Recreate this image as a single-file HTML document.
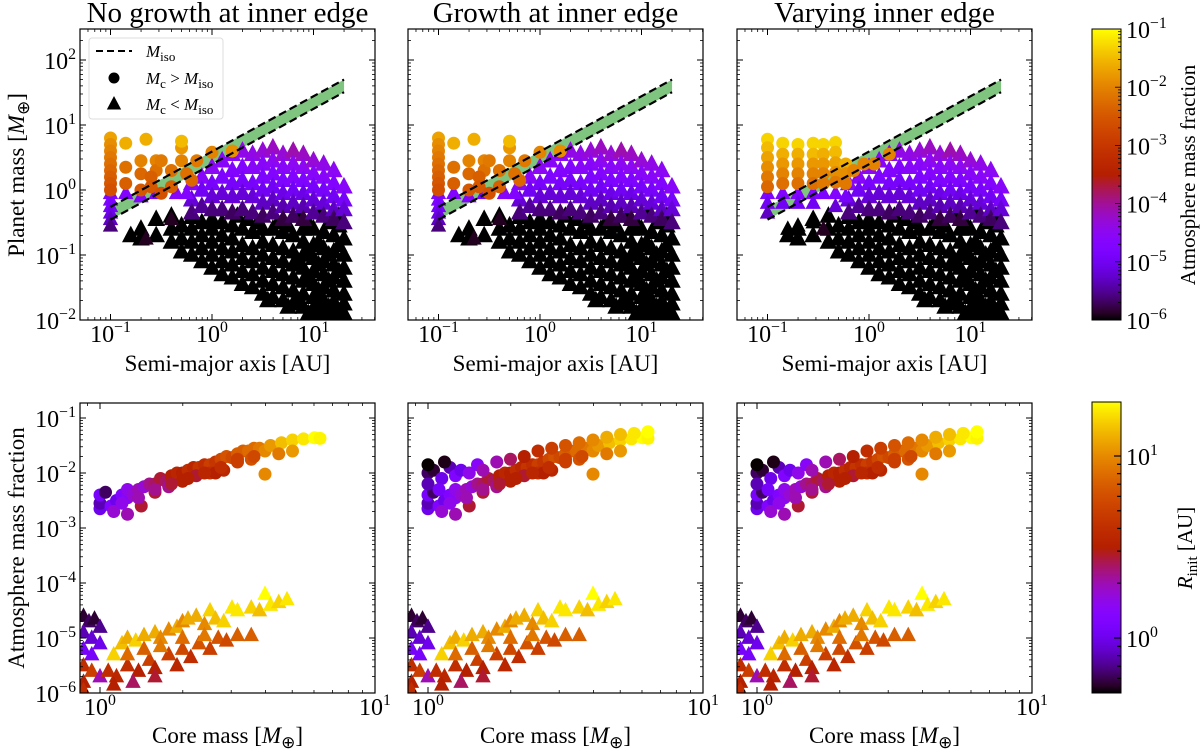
<!DOCTYPE html>
<html><head><meta charset="utf-8"><style>
html,body{margin:0;padding:0;background:#fff}
svg{display:block;font-family:"Liberation Serif",serif}
</style></head><body>
<svg id="fig" width="1200" height="749" viewBox="0 0 1200 749" xmlns="http://www.w3.org/2000/svg"></svg>
<script>
// ---------- DATA ----------
const panelTitles = ["No growth at inner edge","Growth at inner edge","Varying inner edge"];
const isoA = [0.1, 20];
const isoUpper = [0.55, 50];
const isoLower = [0.35, 32];
const blackTri = [[-0.8,-0.7],[-0.7,-0.75],[-0.7,-0.6],[-0.55,-0.7],[-0.55,-0.45],[-0.4,-0.8],[-0.4,-0.6],[-0.4,-0.4],
[-0.3,-0.95],[-0.3,-0.75],[-0.3,-0.55],[-0.2,-1.0],[-0.2,-0.8],[-0.2,-0.6],[-0.2,-0.42],[-0.1,-1.1],[-0.1,-0.9],[-0.1,-0.7],[-0.1,-0.5],
[0,-1.2],[0,-1.0],[0,-0.8],[0,-0.6],[0,-0.45],[0.1,-1.3],[0.1,-1.1],[0.1,-0.9],[0.1,-0.7],[0.1,-0.5],
[0.2,-1.35],[0.2,-1.15],[0.2,-0.95],[0.2,-0.75],[0.2,-0.55],[0.3,-1.45],[0.3,-1.25],[0.3,-1.05],[0.3,-0.85],[0.3,-0.6],
[0.4,-1.5],[0.4,-1.3],[0.4,-1.1],[0.4,-0.9],[0.4,-0.65],[0.5,-1.6],[0.5,-1.4],[0.5,-1.2],[0.5,-1.0],[0.5,-0.8],[0.5,-0.6],
[0.6,-1.65],[0.6,-1.45],[0.6,-1.25],[0.6,-1.05],[0.6,-0.85],[0.6,-0.6],[0.7,-1.7],[0.7,-1.5],[0.7,-1.3],[0.7,-1.1],[0.7,-0.9],[0.7,-0.65],
[0.8,-1.75],[0.8,-1.55],[0.8,-1.35],[0.8,-1.15],[0.8,-0.95],[0.8,-0.7],[0.9,-1.8],[0.9,-1.6],[0.9,-1.4],[0.9,-1.2],[0.9,-1.0],[0.9,-0.8],[0.9,-0.6],
[1.0,-1.82],[1.0,-1.65],[1.0,-1.45],[1.0,-1.25],[1.0,-1.05],[1.0,-0.85],[1.0,-0.6],[1.1,-1.85],[1.1,-1.7],[1.1,-1.5],[1.1,-1.3],[1.1,-1.1],[1.1,-0.9],[1.1,-0.65],
[1.2,-1.88],[1.2,-1.72],[1.2,-1.55],[1.2,-1.35],[1.2,-1.15],[1.2,-0.95],[1.2,-0.7],[1.3,-1.9],[1.3,-1.75],[1.3,-1.6],[1.3,-1.4],[1.3,-1.2],[1.3,-1.0],[1.3,-0.75],
[0.95,-1.9],[1.05,-1.9],[1.15,-1.93],[1.25,-1.93],[0.75,-1.8],[0.55,-1.7],[1.05,-0.35],[1.25,-0.4],[0.85,-0.4],
[0.65,-0.5],[0.75,-0.55],[0.95,-0.5],[1.15,-0.5],[1.25,-0.55],[0.45,-0.5],[0.85,-1.7],[1.05,-1.75],[1.15,-1.8],[0.25,-0.4],[0.35,-0.45],
[1.05,-1.55],[1.15,-1.4],[1.25,-1.25],[0.95,-1.35],[1.05,-1.15],[1.15,-1.0],[1.25,-0.85],[0.85,-1.1],[0.95,-0.95],[1.05,-0.8]];
const purpleTri = [[-0.2,0.1,-4.6],[-0.2,-0.15,-5.2],[-0.2,-0.35,-5.6],[-0.1,0.2,-4.6],[-0.1,0,-5],[-0.1,-0.25,-5.5],
[0,0.35,-4.5],[0,0.1,-4.9],[0,-0.1,-5.2],[0,-0.3,-5.6],[0.1,0.45,-4.6],[0.1,0.2,-4.8],[0.1,-0.05,-5.2],[0.1,-0.3,-5.6],
[0.2,0.55,-4.5],[0.2,0.3,-4.7],[0.2,0.1,-4.9],[0.2,-0.1,-5.2],[0.2,-0.35,-5.7],[0.3,0.6,-4.4],[0.3,0.35,-4.7],[0.3,0.15,-4.9],[0.3,-0.05,-5.2],[0.3,-0.3,-5.6],
[0.4,0.55,-4.4],[0.4,0.35,-4.6],[0.4,0.1,-4.9],[0.4,-0.1,-5.2],[0.4,-0.35,-5.6],[0.5,0.6,-4.3],[0.5,0.4,-4.6],[0.5,0.2,-4.8],[0.5,0,-5],[0.5,-0.2,-5.3],[0.5,-0.4,-5.7],
[0.6,0.65,-4.2],[0.6,0.45,-4.5],[0.6,0.25,-4.7],[0.6,0.05,-5],[0.6,-0.15,-5.3],[0.6,-0.35,-5.6],[0.7,0.55,-4.3],[0.7,0.35,-4.6],[0.7,0.15,-4.8],[0.7,-0.05,-5.1],[0.7,-0.25,-5.4],[0.7,-0.45,-5.8],
[0.8,0.6,-4.1],[0.8,0.4,-4.5],[0.8,0.2,-4.7],[0.8,0,-5],[0.8,-0.2,-5.3],[0.8,-0.4,-5.7],[0.9,0.55,-4.2],[0.9,0.35,-4.5],[0.9,0.15,-4.8],[0.9,-0.05,-5.1],[0.9,-0.25,-5.4],[0.9,-0.45,-5.8],
[1.0,0.45,-4.3],[1.0,0.25,-4.6],[1.0,0.05,-4.9],[1.0,-0.15,-5.2],[1.0,-0.35,-5.5],[1.1,0.4,-4.4],[1.1,0.2,-4.6],[1.1,0,-4.9],[1.1,-0.2,-5.2],[1.1,-0.4,-5.6],
[1.2,0.3,-4.5],[1.2,0.1,-4.7],[1.2,-0.1,-5],[1.2,-0.3,-5.3],[1.2,-0.45,-5.7],[1.3,0.05,-4.6],[1.3,-0.15,-4.9],[1.3,-0.3,-5.2],[1.3,-0.5,-5.6]];
const innerTri = [[-1,-0.05,-4.7],[-1,-0.15,-4.8],[-1,-0.25,-4.9],[-1,-0.35,-5.1],[-1,-0.45,-5.3],[-1,-0.55,-5.6],
[-0.85,-0.05,-4.7],[-0.7,-0.1,-4.7],[-0.55,-0.05,-4.8],[-0.35,-0.05,-4.6],[-0.25,-0.05,-4.7],[-0.4,-0.45,-5.9],[-0.8,-0.7,-6],[-0.65,-0.75,-5.9]];
const innerCirc = [[-1,0.8,-1.7],[-1,0.7,-1.9],[-1,0.6,-2.0],[-1,0.5,-2.1],[-1,0.4,-2.2],[-1,0.3,-2.3],[-1,0.2,-2.4],[-1,0.1,-2.5],[-1,0.0,-2.6],
[-0.85,0.72,-1.6],[-0.85,0.35,-2.2],[-0.85,0.1,-2.4],[-0.7,0.45,-2],[-0.7,0.25,-2.3],[-0.7,0.0,-2.5],[-0.65,0.78,-1.6],[-0.55,0.45,-2.0],[-0.55,0.3,-2.2],
[-0.6,0.2,-2.4],[-0.6,0.05,-2.5],[-0.5,-0.05,-2.6],[-0.5,0.45,-2.1],[-0.4,0.3,-2.2],[-0.4,0.05,-2.4],[-0.3,0.65,-1.8],[-0.3,0.45,-2.0],[-0.25,0.25,-2.2],
[-0.3,0.75,-1.5],[-0.2,0.15,-2.3],[-0.15,0.45,-2.1],[0,0.58,-2.0],[0.2,0.6,-1.9]];
const innerCirc3 = [[-1,0.78,-1.3],[-1,0.65,-1.5],[-1,0.5,-1.7],[-1,0.35,-1.9],[-1,0.2,-2.1],[-1,0.05,-2.3],
[-0.85,0.72,-1.3],[-0.85,0.55,-1.6],[-0.85,0.4,-1.8],[-0.85,0.25,-2.0],[-0.85,0.1,-2.2],
[-0.7,0.7,-1.3],[-0.7,0.55,-1.6],[-0.7,0.4,-1.8],[-0.7,0.25,-2.0],[-0.7,0.1,-2.2],
[-0.55,0.72,-1.3],[-0.55,0.55,-1.5],[-0.55,0.4,-1.8],[-0.55,0.25,-2.0],[-0.55,0.1,-2.2],
[-0.45,0.7,-1.3],[-0.45,0.55,-1.6],[-0.45,0.4,-1.8],[-0.45,0.25,-2.0],[-0.45,0.1,-2.1],
[-0.33,0.73,-1.3],[-0.33,0.58,-1.5],[-0.33,0.42,-1.7],[-0.33,0.27,-1.9],[-0.33,0.12,-2.1],
[-0.23,0.4,-1.6],[-0.23,0.25,-1.9],[-0.23,0.1,-2.1],[-0.15,0.3,-2.0],[-0.05,0.4,-2.0],[0.05,0.4,-2.0],[0.2,0.55,-2.0]];
const innerTri3 = [[-1,-0.05,-4.8],[-1,-0.2,-5.0],[-1,-0.35,-5.3],[-0.85,-0.05,-4.7],[-0.85,-0.2,-5.0],[-0.7,-0.05,-4.7],[-0.7,-0.2,-5.0],
[-0.55,-0.05,-4.7],[-0.55,-0.2,-5.0],[-0.45,-0.05,-4.8],[-0.33,-0.05,-4.7],[-0.33,-0.25,-5.2],[-0.23,-0.1,-4.9],[-0.8,-0.6,-6],[-0.7,-0.55,-6],[-0.55,-0.5,-6],[-0.45,-0.6,-5.9]];
const botCirc = [[0.0,-2.65,0.0],[0.0,-2.55,-0.1],[0.0,-2.4,0.05],[0.02,-2.35,-0.2],[0.04,-2.6,0.1],[0.06,-2.5,0.0],[0.08,-2.4,0.1],[0.1,-2.45,0.15],[0.1,-2.3,0.2],
[0.12,-2.4,0.25],[0.14,-2.3,0.3],[0.16,-2.25,0.25],[0.18,-2.2,0.35],[0.2,-2.2,0.4],[0.22,-2.1,0.45],[0.24,-2.15,0.4],[0.26,-2.05,0.5],[0.28,-2.0,0.55],[0.3,-2.0,0.5],
[0.32,-1.95,0.6],[0.34,-1.9,0.55],[0.36,-1.9,0.65],[0.38,-1.85,0.6],[0.4,-1.85,0.7],[0.42,-1.8,0.65],[0.44,-1.75,0.75],[0.46,-1.7,0.8],[0.48,-1.72,0.75],
[0.5,-1.65,0.85],[0.52,-1.6,0.85],[0.54,-1.6,0.9],[0.56,-1.55,0.9],[0.58,-1.55,0.95],[0.6,-1.6,1.0],[0.62,-1.5,1.05],[0.66,-1.45,1.15],[0.7,-1.4,1.2],
[0.74,-1.38,1.25],[0.78,-1.36,1.3],[0.8,-1.37,1.28],[0.2,-2.35,0.45],[0.3,-2.15,0.5],[0.4,-2.0,0.6],[0.5,-1.8,0.7],[0.55,-1.75,0.8],[0.65,-1.65,0.95],
[0.15,-2.6,0.45],[0.6,-2.02,1.0],[0.7,-1.6,1.05],[0.05,-2.7,0.25],[0.1,-2.75,0.3],[0.25,-2.25,0.35],[0.35,-2.05,0.45],[0.45,-1.95,0.55],[0.42,-2.0,0.5],
[0.08,-2.55,0.2],[0.14,-2.45,0.3],[0.2,-2.3,0.35],[0.26,-2.2,0.45],[0.32,-2.1,0.5],[0.38,-2.0,0.55],[0.44,-1.9,0.6],[0.5,-1.75,0.7],[0.56,-1.7,0.75]];
const botCircExtra = [[0,-2.0,-0.2],[0,-2.2,-0.1],[0.02,-1.95,-0.25],[0.05,-2.1,0.0],[0.04,-2.3,0.05],[0.08,-1.9,-0.1],[0.1,-2.05,0.1],[0.12,-1.95,0.0],
[0.15,-2.0,0.2],[0.18,-1.85,0.15],[0.2,-1.95,0.3],[0.25,-1.8,0.3],[0.3,-1.75,0.4],[0.35,-1.7,0.5],[0.4,-1.6,0.6],[0.45,-1.55,0.7],[0.5,-1.5,0.8],
[0.55,-1.45,0.9],[0.6,-1.4,1.0],[0.65,-1.35,1.1],[0.7,-1.3,1.15],[0.75,-1.28,1.25],[0.8,-1.25,1.3],[0.0,-1.85,-0.3],[0.06,-1.8,-0.28]];
const botTri = [[-0.06,-4.6,-0.25],[-0.04,-4.7,-0.2],[-0.02,-4.65,-0.25],[0.0,-4.8,-0.15],[-0.06,-4.9,-0.1],[-0.03,-5.0,-0.05],[0,-5.1,0],[-0.06,-5.2,0.05],
[-0.03,-5.3,0.05],[-0.06,-5.5,0.6],[-0.03,-5.6,0.7],[-0.06,-5.8,0.5],[0,-5.7,0.3],[-0.06,-5.95,0.6],
[0.05,-5.3,1.2],[0.08,-5.1,1.15],[0.1,-5.0,1.1],[0.13,-5.05,1.2],[0.16,-4.95,1.1],[0.2,-4.9,1.1],[0.22,-5.0,1.0],[0.25,-4.85,1.0],[0.28,-4.8,1.1],
[0.3,-4.7,1.0],[0.32,-4.65,1.1],[0.35,-4.6,1.1],[0.38,-4.75,1.0],[0.4,-4.5,1.2],[0.42,-4.65,1.15],[0.45,-4.7,1.2],[0.48,-4.45,1.25],[0.5,-4.5,1.25],
[0.55,-4.45,1.2],[0.58,-4.5,1.15],[0.6,-4.2,1.3],[0.62,-4.4,1.25],[0.65,-4.35,1.2],[0.68,-4.3,1.25],
[0.03,-5.6,0.6],[0.06,-5.7,0.55],[0.1,-5.5,0.6],[0.14,-5.6,0.5],[0.18,-5.4,0.7],[0.2,-5.55,0.5],[0.25,-5.3,0.7],[0.28,-5.5,0.55],[0.3,-5.2,0.75],
[0.33,-5.35,0.6],[0.36,-5.1,0.8],[0.4,-5.2,0.7],[0.43,-5.0,0.8],[0.46,-5.05,0.75],[0.5,-4.95,0.85],[0.55,-4.95,0.85],[0.05,-5.85,0.5],[0.12,-5.8,0.4],
[0.2,-5.7,0.45],[0.1,-5.3,0.9],[0.16,-5.2,0.85],[0.22,-5.15,0.95],[0.3,-5.0,0.9],[0.38,-4.95,0.95]];
const topYTicks = [-2,-1,0,1,2];
const topXTicks = [-1,0,1];
const botYTicks = [-6,-5,-4,-3,-2,-1];
const botXTicks = [0,1];
const cb1Ticks = [-6,-5,-4,-3,-2,-1];
const cb2Ticks = [0,1];

// ---------- LAYOUT ----------
const NS="http://www.w3.org/2000/svg";
const svg=document.getElementById('fig');
const offs=[0,328,657];
const PW=295;
const T={top:29,bot:320,left:80};
const B={top:403,bot:693,left:80};
const tx=(la,p)=>212+la*101.5+offs[p];
const ty=lm=>190-lm*65;
const bx=(lc,p)=>100+lc*275+offs[p];
const by=lf=>418+(-1-lf)*55;
const topXmin=-1.3, topXmax=(375-212)/101.5, topYmin=-2, topYmax=(190-29)/65;
const botXmin=-20/275, botXmax=1, botYmin=-6, botYmax=-1-(403-418)/55;
const TS=24;

function el(tag,attrs,parent){const e=document.createElementNS(NS,tag);for(const k in attrs)e.setAttribute(k,attrs[k]);(parent||svg).appendChild(e);return e;}
function gnu(t){t=Math.max(0,Math.min(1,t));const r=Math.sqrt(t),g=t*t*t,b=Math.max(0,Math.sin(2*Math.PI*t));return `rgb(${Math.round(r*255)},${Math.round(g*255)},${Math.round(b*255)})`;}
const cTop=lf=>gnu((lf+6)/5);
const cBot=lr=>gnu((lr+0.301)/1.602);
function tri(g,x,y,s,c){return el('polygon',{points:`${x},${y-s*0.62} ${x-s*0.55},${y+s*0.42} ${x+s*0.55},${y+s*0.42}`,fill:c},g);}
function powLabel(x,y,exp,anchor,parent,size){
  size=size||TS;
  const t=el('text',{x:x,y:y,'font-size':size,'text-anchor':anchor||'middle',fill:'#000'},parent);
  
  
  t.appendChild(document.createTextNode('10'));
  const s=el('tspan',{dy:-10,'font-size':size*0.66},t);
  s.textContent=exp<0?'\u2212'+(-exp):String(exp);
  return t;
}
function logTicks(g,axis,min,max,map,fixed){
  for(let d=Math.floor(min);d<=Math.ceil(max);d++){
    for(let m=1;m<10;m++){
      const v=d+Math.log10(m); if(v<min-1e-6||v>max+1e-6)continue;
      const L=m===1?6:3; const p=map(v);
      fixed.forEach((f,i)=>{const s=i===0?-1:1;
        if(axis==='x') el('line',{x1:p,x2:p,y1:f,y2:f+s*L,stroke:'#000','stroke-width':m===1?1:0.8},g);
        else el('line',{y1:p,y2:p,x1:f,x2:f-s*L,stroke:'#000','stroke-width':m===1?1:0.8},g);
      });
    }
  }
}
function massLabel(t){
  const s=el('tspan',{'font-style':'italic'},t); s.textContent='M';
  const s2=el('tspan',{'font-size':17,dy:5},t); s2.textContent='\u2295';
  const s3=el('tspan',{dy:-5},t); s3.textContent=']';
}

// ---------- TOP ROW ----------
for(let p=0;p<3;p++){
  const g=el('g',{});  
  const x0=T.left+offs[p];
  const clipId='ct'+p;
  const cp=el('clipPath',{id:clipId},g); el('rect',{x:x0,y:T.top,width:PW,height:T.bot-T.top},cp);
  const pg=el('g',{'clip-path':`url(#${clipId})`},g);
  const la0=Math.log10(isoA[0]),la1=Math.log10(isoA[1]);
  const band=el('polygon',{points:`${tx(la0,p)},${ty(Math.log10(isoUpper[0]))} ${tx(la1,p)},${ty(Math.log10(isoUpper[1]))} ${tx(la1,p)},${ty(Math.log10(isoLower[1]))} ${tx(la0,p)},${ty(Math.log10(isoLower[0]))}`,fill:'#7fc47f'},pg);
   
  blackTri.forEach(d=>{const t=tri(pg,tx(d[0],p),ty(d[1]),16,'#000');
     });
  purpleTri.forEach(d=>{const t=tri(pg,tx(d[0],p),ty(d[1]),16,cTop(d[2]));
     });
  const it=p===2?innerTri3:innerTri, ic=p===2?innerCirc3:innerCirc;
  it.forEach(d=>{const t=tri(pg,tx(d[0],p),ty(d[1]),14,cTop(d[2]));
     });
  ic.forEach(d=>{const c=el('circle',{cx:tx(d[0],p),cy:ty(d[1]),r:6.5,fill:cTop(d[2])},pg);
     });
  [isoUpper,isoLower].forEach((arr,i)=>{const l=el('line',{x1:tx(la0,p),y1:ty(Math.log10(arr[0])),x2:tx(la1,p),y2:ty(Math.log10(arr[1])),stroke:'#000','stroke-width':2.2,'stroke-dasharray':'8,4'},pg);
     });
  const fr=el('rect',{x:x0,y:T.top,width:PW,height:T.bot-T.top,fill:'none',stroke:'#000','stroke-width':1.2},g);
   
  logTicks(g,'x',topXmin,topXmax,v=>tx(v,p),[T.bot,T.top]);
  logTicks(g,'y',topYmin,topYmax,ty,[x0,x0+PW]);
  topXTicks.forEach(v=>powLabel(tx(v,p),342,v,'middle',g));
  if(p===0) topYTicks.forEach(v=>powLabel(x0-4,ty(v)+9,v,'end',g));
  const xl=el('text',{x:x0+PW/2,y:371,'font-size':23,'text-anchor':'middle'},g); xl.textContent='Semi-major axis [AU]';
   
  const tt=el('text',{x:x0+PW/2,y:22,'font-size':29,'text-anchor':'middle'},g); tt.textContent=panelTitles[p];
   
}
{const t=el('text',{x:0,y:0,'font-size':23,'text-anchor':'middle',transform:'translate(24,175) rotate(-90)'});
  
 t.appendChild(document.createTextNode('Planet mass ['));
 massLabel(t);}
{const g=el('g',{});  
 el('rect',{x:89,y:38,width:134,height:81,rx:3,fill:'#fff',stroke:'#ddd'},g);
 const l=el('line',{x1:96,x2:132,y1:51,y2:51,stroke:'#000','stroke-width':2,'stroke-dasharray':'7,4'},g);
  
 el('circle',{cx:114,cy:78,r:5.5,fill:'#000'},g);
 tri(g,114,104,13,'#000');
 const mk=(y,parts)=>{const t=el('text',{x:146,y:y,'font-size':17},g);
    
   parts.forEach(pt=>{const s=el('tspan',pt[1]||{},t); s.textContent=pt[0];});};
 mk(57,[['M',{'font-style':'italic'}],['iso',{'font-size':13,dy:4}]]);
 mk(84,[['M',{'font-style':'italic'}],['c',{'font-size':13,dy:4}],[' > ',{dy:-4}],['M',{'font-style':'italic'}],['iso',{'font-size':13,dy:4}]]);
 mk(110,[['M',{'font-style':'italic'}],['c',{'font-size':13,dy:4}],[' < ',{dy:-4}],['M',{'font-style':'italic'}],['iso',{'font-size':13,dy:4}]]);
}

// ---------- BOTTOM ROW ----------
for(let p=0;p<3;p++){
  const g=el('g',{});  
  const x0=B.left+offs[p];
  const clipId='cb'+p;
  const cp=el('clipPath',{id:clipId},g); el('rect',{x:x0,y:B.top,width:PW,height:B.bot-B.top},cp);
  const pg=el('g',{'clip-path':`url(#${clipId})`},g);
  botTri.forEach(d=>{const t=tri(pg,bx(d[0],p),by(d[1]),14,cBot(d[2]));
     });
  const circs=p===0?botCirc:botCirc.concat(botCircExtra);
  circs.forEach(d=>{const c=el('circle',{cx:bx(d[0],p),cy:by(d[1]),r:6.5,fill:cBot(d[2])},pg);
     });
  const fr=el('rect',{x:x0,y:B.top,width:PW,height:B.bot-B.top,fill:'none',stroke:'#000','stroke-width':1.2},g);
   
  logTicks(g,'x',botXmin,botXmax,v=>bx(v,p),[B.bot,B.top]);
  logTicks(g,'y',botYmin,botYmax,by,[x0,x0+PW]);
  botXTicks.forEach(v=>powLabel(bx(v,p),715,v,'middle',g));
  if(p===0) botYTicks.forEach(v=>powLabel(x0-4,by(v)+9,v,'end',g));
  const xl=el('text',{x:x0+PW/2,y:743,'font-size':23,'text-anchor':'middle'},g);
   
  xl.appendChild(document.createTextNode('Core mass ['));
  massLabel(xl);
}
{const t=el('text',{x:0,y:0,'font-size':23,'text-anchor':'middle',transform:'translate(24,548) rotate(-90)'});
 t.textContent='Atmosphere mass fraction';
  }

// ---------- COLORBARS ----------
const defs=el('defs',{});
function grad(id){const lg=el('linearGradient',{id:id,x1:0,y1:1,x2:0,y2:0},defs);
  for(let i=0;i<=40;i++){el('stop',{offset:i/40,'stop-color':gnu(i/40)},lg);} }
grad('gcm');
{const g=el('g',{});  
 el('rect',{x:1092,y:29,width:29,height:291,fill:'url(#gcm)',stroke:'#000','stroke-width':1},g);
 const cy=lf=>320-(lf+6)*58.2;
 for(let d=-6;d<=-1;d++){for(let m=1;m<10;m++){const v=d+Math.log10(m);if(v>-1+1e-6)continue;
   el('line',{x1:1121,x2:1121-(m===1?6:3),y1:cy(v),y2:cy(v),stroke:'#000','stroke-width':0.8},g);}}
 cb1Ticks.forEach(v=>powLabel(1126,cy(v)+9,v,'start',g));
 const t=el('text',{x:0,y:0,'font-size':21,'text-anchor':'middle',transform:'translate(1195,175) rotate(-90)'},g);
 t.textContent='Atmosphere mass fraction';
  }
{const g=el('g',{});  
 el('rect',{x:1092,y:402,width:29,height:291,fill:'url(#gcm)',stroke:'#000','stroke-width':1},g);
 const cy=lr=>638-lr*182;
 for(let d=-1;d<=1;d++){for(let m=1;m<10;m++){const v=d+Math.log10(m);if(v<-0.301||v>1.301)continue;
   el('line',{x1:1121,x2:1121-(m===1?7:4),y1:cy(v),y2:cy(v),stroke:'#000','stroke-width':1.2},g);}}
 cb2Ticks.forEach(v=>powLabel(1126,cy(v)+9,v,'start',g));
 const t=el('text',{x:0,y:0,'font-size':21,'text-anchor':'middle',transform:'translate(1192,548) rotate(-90)'},g);
  
 const s=el('tspan',{'font-style':'italic'},t); s.textContent='R';
 const s2=el('tspan',{'font-size':15,dy:5},t); s2.textContent='init';
 const s3=el('tspan',{dy:-5},t); s3.textContent=' [AU]';}
</script>
</body></html>
